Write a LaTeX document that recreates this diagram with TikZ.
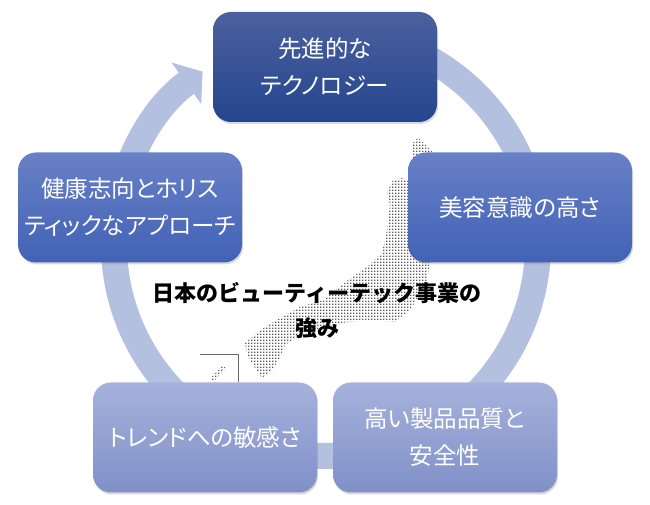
\documentclass[tikz,border=0pt]{standalone}
\usepackage{fontspec}
\usepackage{tikz}
\usetikzlibrary{arrows.meta, positioning, shadows, patterns}

\newfontfamily\boxfont[RawFeature=+palt]{Noto Sans CJK JP}
\newfontfamily\titlefont{Noto Sans CJK JP}

\definecolor{ringblue}{RGB}{180,192,224}
\definecolor{navytop}{RGB}{76,96,158}
\definecolor{navybot}{RGB}{36,70,142}
\definecolor{midtop}{RGB}{104,128,198}
\definecolor{midbot}{RGB}{66,98,182}
\definecolor{paletop}{RGB}{166,178,220}
\definecolor{palebot}{RGB}{128,144,200}

% dots for the map
\pgfdeclarepatternformonly{mapdots}{\pgfqpoint{-1pt}{-1pt}}{\pgfqpoint{2pt}{2pt}}{\pgfqpoint{3pt}{3pt}}%
  {\pgfpathrectangle{\pgfqpoint{-0.7pt}{-0.7pt}}{\pgfqpoint{1.4pt}{1.4pt}}\pgfusepath{fill}}

\begin{document}
\begin{tikzpicture}[
    x=1pt, y=1pt,
    box/.style={rectangle, rounded corners=18pt, minimum width=224pt, minimum height=110pt,
        align=center, text=white, font=\boxfont\fontsize{23.5}{37}\selectfont,
        drop shadow={opacity=0.3, shadow xshift=1pt, shadow yshift=-2pt}},
    navybox/.style={box, top color=navytop, bottom color=navybot},
    midbox/.style={box, top color=midtop, bottom color=midbot},
    palebox/.style={box, top color=paletop, bottom color=palebot},
    ring/.style={draw=ringblue, line width=26pt},
    map/.style={pattern=mapdots, pattern color=black!65},
    title/.style={align=center, font=\titlefont\bfseries\fontsize{22}{35}\selectfont}
]
\useasboundingbox (0,0) rectangle (650,505);

% Ring
\coordinate (hub) at (326,261);
\draw[ring, -{Triangle[width=50pt, length=20pt]}]
  ([shift={(85:212)}]hub) arc[start angle=85, end angle=-234.4, radius=212];

% Map
\path[map] (393,325) -- (403,327) -- (415,319) -- (432,255) -- (426,220) -- (410,195)
  -- (395,183) -- (370,185) -- (340,182) -- (318,175) -- (300,170) -- (285,160)
  -- (280,147) -- (272,135) -- (262,127) -- (255,137) -- (247,150) -- (245,162)
  -- (265,178) -- (282,188) -- (300,198) -- (323,205) -- (348,225) -- (367,238)
  -- (382,252) -- (387,275) -- (390,300) -- (387,313) -- cycle;
\path[map] (412,353) -- (413,362) -- (418,367) -- (424,362) -- (440,345) -- (440,330)
  -- (412,330) -- cycle;
\path[map] (210,126) -- (222,139) -- (226,137) -- (214,124) -- cycle;
\draw[black!60, thin] (200,151) -- (238,151) -- (238,123);

\node[title] (strength) at (317,194.5) {日本のビューティーテック事業の\\強み};

% Boxes
\node[navybox] (tech) at (325,438) {先進的な\\テクノロジー};
\node[midbox] (beauty) at (520,297.5) {美容意識の高さ};
\node[palebox] (quality) at (445,67.5) {高い製品品質と\\安全性};
\node[palebox] (trend) at (205,67.5) {トレンドへの敏感さ};
\node[midbox] (health) at (130,297.5) {健康志向とホリス\\ティックなアプローチ};

\end{tikzpicture}
\end{document}
